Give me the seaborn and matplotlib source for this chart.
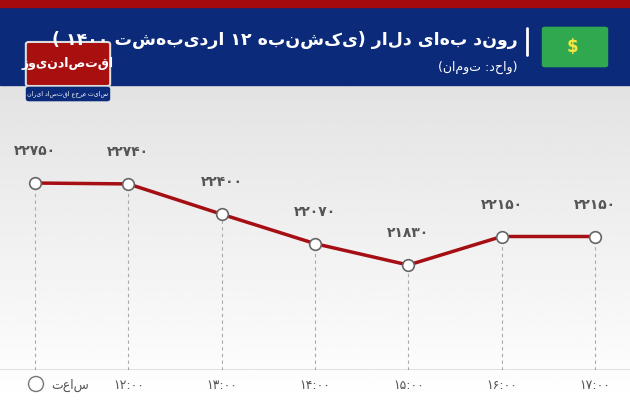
import numpy as np
import seaborn as sns
import matplotlib.pyplot as plt
from matplotlib.patches import FancyBboxPatch, Rectangle, Ellipse

sns.set_theme(style="white")
plt.rcParams["font.family"] = ["DejaVu Sans"]

# data
times = ["", "۱۲:۰۰", "۱۳:۰۰", "۱۴:۰۰", "۱۵:۰۰", "۱۶:۰۰", "۱۷:۰۰"]
prices = [22750, 22740, 22400, 22070, 21830, 22150, 22150]
price_labels = ["۲۲۷۵۰", "۲۲۷۴۰", "۲۲۴۰۰", "۲۲۰۷۰", "۲۱۸۳۰", "۲۲۱۵۰", "۲۲۱۵۰"]
title = "روند بهای دلار (یکشنبه ۱۲ اردیبهشت ۱۴۰۰ )"
unit = "(واحد: تومان)"
hour_word = "ساعت"


def rtl(s):
    # no bidi in matplotlib: flip letter order, keep digit runs as they are
    out, run = [], ""
    for ch in s:
        if ch.isdigit() or ch == ":":
            run += ch
        else:
            if run:
                out.append(run)
                run = ""
            out.append(ch)
    if run:
        out.append(run)
    flip = {"(": ")", ")": "("}
    return "".join(flip.get(t, t) for t in reversed(out))


fig = plt.figure(figsize=(6.3, 4.04), dpi=100)
bg = fig.add_axes([0, 0, 1, 1], zorder=0)
bg.set_axis_off()
grad = np.linspace(0.86, 1.0, 256).reshape(-1, 1)
bg.imshow(grad, extent=[0, 1, 0, 1], aspect="auto", cmap="gray", vmin=0, vmax=1, origin="upper")
bg.set_xlim(0, 1)
bg.set_ylim(0, 1)
bg.add_patch(Rectangle((0, 1 - 85 / 404), 1, 78 / 404, color="#0b2a7a"))
bg.add_patch(Rectangle((0, 1 - 7 / 404), 1, 7 / 404, color="#a50a0f"))
bg.add_patch(FancyBboxPatch((29 / 630, 1 - 84 / 404), 78 / 630, 40 / 404,
                            boxstyle="round,pad=0.005", fc="#a81010", ec="#dddddd", lw=1.5))
bg.text(68 / 630, 1 - 64 / 404, rtl("اقتصادنیوز"), color="white", fontsize=9,
        fontweight="bold", ha="center", va="center")
bg.add_patch(FancyBboxPatch((29 / 630, 1 - 99 / 404), 78 / 630, 10 / 404,
                            boxstyle="round,pad=0.004", color="#0b2a7a"))
bg.text(68 / 630, 1 - 94 / 404, rtl("سایت مرجع اقتصاد ایران"), color="white", fontsize=4.5,
        ha="center", va="center")
bg.add_patch(FancyBboxPatch((545 / 630, 1 - 65 / 404), 60 / 630, 36 / 404,
                            boxstyle="round,pad=0.004", color="#2fa84f"))
bg.text(572 / 630, 1 - 47 / 404, "$", color="#f5e642", fontsize=12, fontweight="bold",
        ha="center", va="center")
bg.plot([527 / 630, 527 / 630], [1 - 28 / 404, 1 - 55 / 404], color="white", lw=2)
bg.text(518 / 630, 1 - 40 / 404, rtl(title), color="white", fontsize=12.5, fontweight="bold",
        ha="right", va="center")
bg.text(518 / 630, 1 - 67 / 404, rtl(unit), color="white", fontsize=9, ha="right", va="center")

ax = fig.add_axes([0, 34 / 404, 1, 285 / 404], zorder=1)
ax.patch.set_alpha(0)
x = np.arange(len(prices))
ax.set_xlim(-0.375, 6.375)
ax.set_ylim(20652, 23850)
for xi, p in zip(x, prices):
    ax.plot([xi, xi], [20652, p], color="#aaaaaa", lw=0.8, ls=(0, (3, 3)), zorder=1)
sns.lineplot(x=x, y=prices, ax=ax, color="#a50f14", lw=2.5, zorder=2)
ax.scatter(x, prices, s=70, facecolor="white", edgecolor="#666666", lw=1.2, zorder=3)
for xi, p, lab in zip(x, prices, price_labels):
    ax.annotate(lab, (xi, p), xytext=(0, 20), textcoords="offset points", ha="center",
                fontsize=10, fontweight="bold", color="#555555")
ax.axhline(20652, color="#777777", lw=1)
for xi, t in zip(x, times):
    if t:
        ax.annotate(t, (xi, 20652), xytext=(0, -11), textcoords="offset points", ha="center",
                    va="center", fontsize=9, color="#555555")
ax.annotate(rtl(hour_word), (0.38, 20652), xytext=(0, -11), textcoords="offset points",
            ha="center", va="center", fontsize=9, color="#555555")
fig.patches.append(Ellipse((36 / 630, 1 - 384 / 404), 15 / 630, 15 / 404,
                           transform=fig.transFigure, fill=False, ec="#777777", lw=1))
ax.set_axis_off()

fig.savefig("out.png", dpi=100)
